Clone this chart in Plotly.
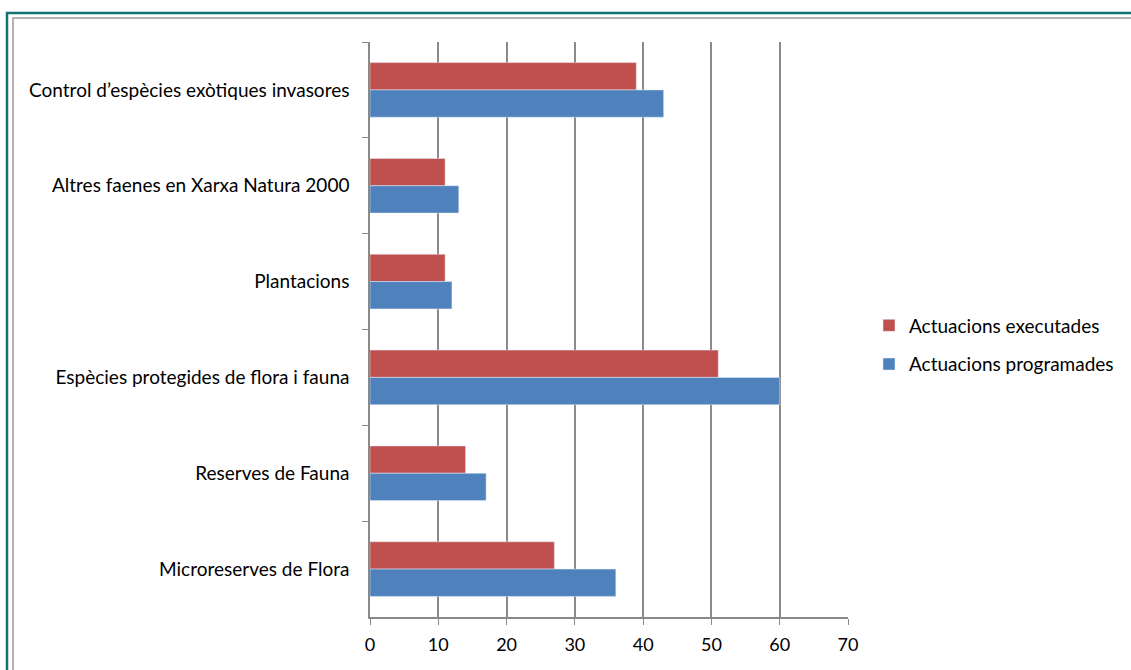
import plotly.graph_objects as go

categories = [
    'Control d’espècies exòtiques invasores',
    'Altres faenes en Xarxa Natura 2000',
    'Plantacions',
    'Espècies protegides de flora i fauna',
    'Reserves de Fauna',
    'Microreserves de Flora',
]
executades = [39, 11, 11, 51, 14, 27]
programades = [43, 13, 12, 60, 17, 36]

W, H = 1131, 670
L, R, T, B = 370, 283, 42, 53


def px_x(p):
    return (p - L) / (W - L - R)


def px_y(p):
    return (H - B - p) / (H - T - B)


fig = go.Figure()
fig.add_trace(go.Bar(y=categories, x=executades, orientation='h', legendgroup='a',
                     name='Actuacions executades', marker_color='#C0504D'))
fig.add_trace(go.Bar(y=categories, x=programades, orientation='h', legendgroup='b',
                     name='Actuacions programades', marker_color='#4F81BD'))

font = 'Lato, "Open Sans", sans-serif'

fig.update_layout(
    width=W, height=H,
    margin=dict(l=L, r=R, t=T, b=B, autoexpand=False),
    paper_bgcolor='white', plot_bgcolor='white',
    barmode='group', bargap=0.43, bargroupgap=0,
    font=dict(family=font, size=19, color='#000000'),
    showlegend=True,
    legend=dict(x=px_x(869), y=px_y(345), xanchor='left', yanchor='middle',
                font=dict(size=19), tracegroupgap=11, itemwidth=30),
    xaxis=dict(range=[0, 70], dtick=10, showgrid=True, gridcolor='#8A8A8A', gridwidth=1.5,
               showline=True, linecolor='#8A8A8A', linewidth=1.5, ticks='outside',
               ticklen=6, tickcolor='#8A8A8A', zeroline=False, fixedrange=True,
               tickfont=dict(size=18), ticklabelstandoff=5),
    yaxis=dict(autorange='reversed', type='category', tickson='boundaries',
               showline=True, linecolor='#8A8A8A', linewidth=1.5, ticks='outside',
               ticklen=6, tickcolor='#8A8A8A', showgrid=False, ticklabelstandoff=15,
               fixedrange=True),
    shapes=[
        dict(type='rect', xref='paper', yref='paper',
             x0=px_x(7), x1=px_x(1140), y0=px_y(680), y1=px_y(13),
             line=dict(color='#137272', width=2.5), layer='above'),
        dict(type='rect', xref='paper', yref='paper',
             x0=px_x(13), x1=px_x(1140), y0=px_y(680), y1=px_y(18),
             line=dict(color='#9A9A9A', width=1.5), layer='above'),
    ],
)

fig.write_html('out.html', config={'displayModeBar': False},
               post_script="document.body.style.margin='0';")
